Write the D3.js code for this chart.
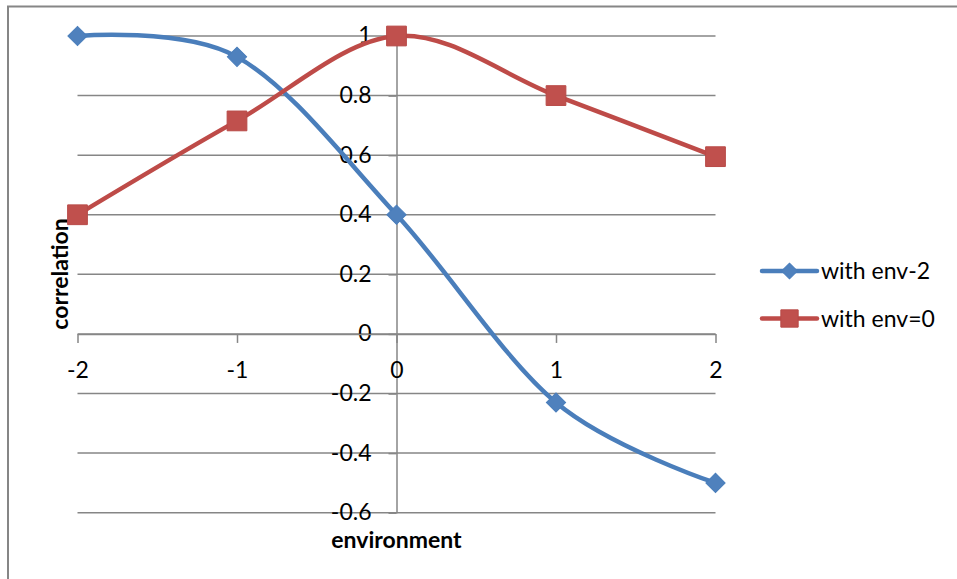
<!DOCTYPE html>
<html>
<head>
<meta charset="utf-8">
<script src="https://cdn.jsdelivr.net/npm/d3@7"></script>
<style>
  html, body { margin: 0; padding: 0; background: #fff; }
  svg { display: block; }
  text { font-family: Lato, "Open Sans", sans-serif; fill: #000; }
</style>
</head>
<body>
<svg id="chart" width="957" height="579"></svg>
<script>
// Environments on the x axis
const environments = [-2, -1, 0, 1, 2];
// Correlation with environment -2
const withEnvMinus2 = [1.00, 0.93, 0.40, -0.23, -0.50];
// Correlation with environment 0
const withEnv0 = [0.40, 0.715, 1.00, 0.80, 0.595];
// Axis ticks
const xTicks = [-2, -1, 0, 1, 2];
const yTicks = [-0.6, -0.4, -0.2, 0, 0.2, 0.4, 0.6, 0.8, 1];
const seriesNames = ["with env-2", "with env=0"];

const svg = d3.select("#chart");
const gridColor = "#868686";
const labelSize = 23;
const titleSize = 23;

// Chart area frame
svg.append("path")
  .attr("d", "M8,579 V6.5 H957")
  .attr("fill", "none")
  .attr("stroke", gridColor)
  .attr("stroke-width", 2);

const x = d3.scaleLinear().domain([-2, 2]).range([77.5, 715.5]);
const y = d3.scaleLinear().domain([-0.6, 1]).range([512.7, 36]);

// Horizontal gridlines
svg.append("g")
  .selectAll("line")
  .data(yTicks)
  .join("line")
  .attr("x1", x(-2)).attr("x2", x(2))
  .attr("y1", d => y(d)).attr("y2", d => y(d))
  .attr("stroke", gridColor)
  .attr("stroke-width", 1.5);

// Y axis crossing at x = 0
const yAxis = svg.append("g")
  .attr("transform", `translate(${x(0)},0)`)
  .call(d3.axisLeft(y).tickValues(yTicks).tickSize(8).tickSizeOuter(0).tickPadding(17));
yAxis.select(".domain").attr("stroke", gridColor).attr("stroke-width", 1.5);
yAxis.selectAll(".tick line").attr("stroke", gridColor).attr("stroke-width", 1.5);
yAxis.selectAll(".tick text")
  .attr("font-size", labelSize).attr("font-family", "Lato, sans-serif").attr("fill", "#000")
  .attr("dy", "0.3em")
  .text(d => String(+d.toFixed(1)));

// X axis crossing at y = 0
const xAxis = svg.append("g")
  .attr("transform", `translate(0,${y(0)})`)
  .call(d3.axisBottom(x).tickValues(xTicks).tickSize(9).tickSizeOuter(0));
xAxis.select(".domain").attr("stroke", gridColor).attr("stroke-width", 1.5);
xAxis.selectAll(".tick line").attr("stroke", gridColor).attr("stroke-width", 1.5);
xAxis.selectAll(".tick text")
  .attr("font-size", labelSize).attr("font-family", "Lato, sans-serif").attr("fill", "#000")
  .attr("y", 44).attr("dy", 0)
  .text(d => String(d));

// Axis titles
svg.append("text")
  .attr("x", x(0)).attr("y", 548)
  .attr("text-anchor", "middle")
  .attr("font-size", titleSize).attr("font-weight", "bold")
  .text("environment");
svg.append("text")
  .attr("transform", `translate(68,274) rotate(-90)`)
  .attr("text-anchor", "middle")
  .attr("font-size", titleSize).attr("font-weight", "bold")
  .text("correlation");

const series = [
  { name: seriesNames[0], values: withEnvMinus2, line: "#4A7EBB", fill: "#4F81BD", stroke: "#4A7EBB", shape: "diamond" },
  { name: seriesNames[1], values: withEnv0, line: "#BE4B48", fill: "#C0504D", stroke: "#B84A47", shape: "square" }
];

const smooth = d3.line()
  .x(d => x(d[0])).y(d => y(d[1]))
  .curve(d3.curveCardinal.tension(0));

function markerPath(shape, big) {
  if (shape === "diamond") return d3.symbol(d3.symbolSquare, big ? 185 : 125)();
  return d3.symbol(d3.symbolSquare, big ? 390 : 300)();
}

series.forEach(s => {
  const pts = environments.map((e, i) => [e, s.values[i]]);
  svg.append("path")
    .attr("d", smooth(pts))
    .attr("fill", "none")
    .attr("stroke", s.line)
    .attr("stroke-width", 4.5)
    .attr("stroke-linejoin", "round");
  svg.append("g")
    .selectAll("path")
    .data(pts)
    .join("path")
    .attr("d", markerPath(s.shape, true))
    .attr("transform", d => `translate(${x(d[0])},${y(d[1])})` + (s.shape === "diamond" ? " rotate(45)" : ""))
    .attr("fill", s.fill)
    .attr("stroke", s.stroke)
    .attr("stroke-width", 1);
});

// Legend
const legend = svg.append("g");
series.forEach((s, i) => {
  const ly = 271 + i * 47.5;
  legend.append("line")
    .attr("x1", 762).attr("x2", 817).attr("y1", ly).attr("y2", ly)
    .attr("stroke", s.line).attr("stroke-width", 4.5).attr("stroke-linecap", "round");
  legend.append("path")
    .attr("d", markerPath(s.shape, false))
    .attr("transform", `translate(789.5,${ly})` + (s.shape === "diamond" ? " rotate(45)" : ""))
    .attr("fill", s.fill).attr("stroke", s.stroke).attr("stroke-width", 1);
  legend.append("text")
    .attr("x", 821).attr("y", ly + 8)
    .attr("font-size", labelSize)
    .text(s.name);
});
</script>
</body>
</html>
